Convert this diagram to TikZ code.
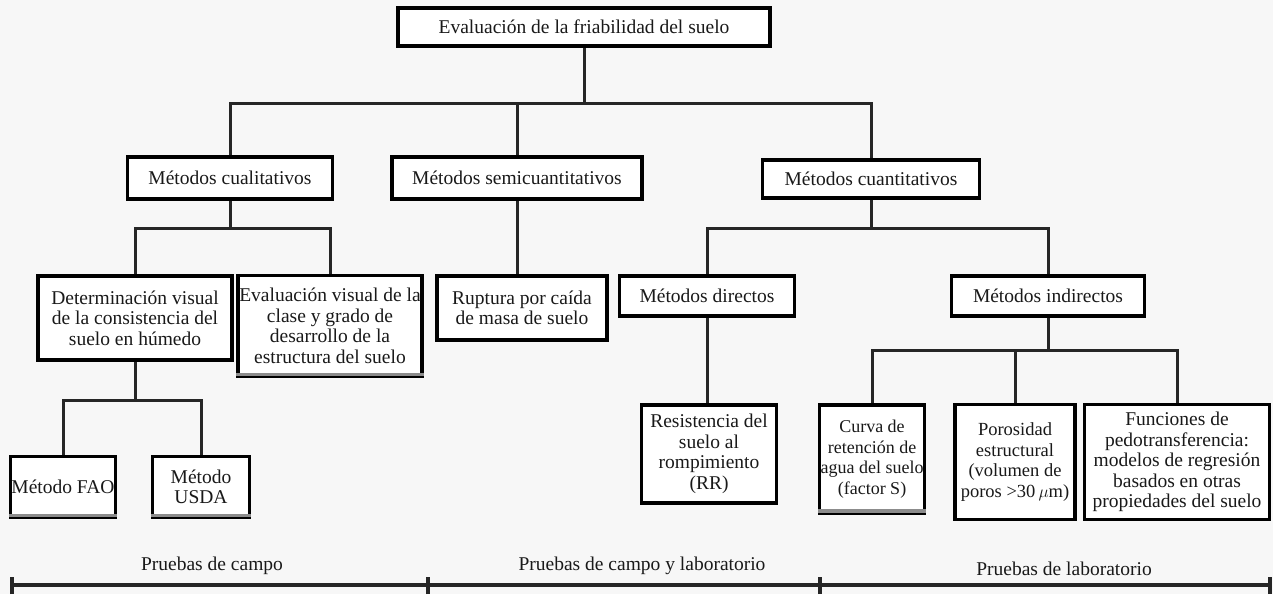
\documentclass[tikz,border=0pt]{standalone}
\usepackage{fontspec}
\setmainfont{Liberation Serif}
\begin{document}
\begin{tikzpicture}[x=1pt,y=-1pt,
  box/.style={draw=black,line width=3.2pt,fill=white,align=center,inner sep=1pt,
    font=\fontsize{19.5}{20.5}\selectfont,text=black!90},
  conn/.style={line width=3pt,draw=black!85},
  shd/.style={line width=3.5pt,draw=black!45},
  lbl/.style={font=\fontsize{19.5}{20.5}\selectfont,text=black!90}]
\fill[black!3] (0,0) rectangle (1273,594);
\useasboundingbox (0,0) rectangle (1273,594);
\node[box,minimum width=372pt,minimum height=38pt] (top) at (584,27) {Evaluación de la friabilidad del suelo};
\node[box,minimum width=205pt,minimum height=42pt] (cual) at (230,178) {Métodos cualitativos};
\node[box,minimum width=250pt,minimum height=42pt] (semi) at (517,178) {Métodos semicuantitativos};
\node[box,minimum width=217pt,minimum height=38pt] (cuant) at (871,179) {Métodos cuantitativos};
\node[box,minimum width=194pt,minimum height=84pt] (det) at (135,318) {Determinación visual\\de la consistencia del\\suelo en húmedo};
\node[box,minimum width=184pt,minimum height=101pt] (eval) at (330,326) {Evaluación visual de la\\clase y grado de\\desarrollo de la\\estructura del suelo};
\node[box,minimum width=103pt,minimum height=61pt] (fao) at (63,487) {Método FAO};
\node[box,minimum width=97pt,minimum height=61pt] (usda) at (201,487) {Método\\USDA};
\node[box,minimum width=170pt,minimum height=64pt] (rup) at (522,308) {Ruptura por caída\\de masa de suelo};
\node[box,minimum width=175pt,minimum height=40pt] (dir) at (707,296) {Métodos directos};
\node[box,minimum width=193pt,minimum height=40pt] (ind) at (1048,296) {Métodos indirectos};
\node[box,minimum width=135pt,minimum height=98pt] (res) at (709,454) {Resistencia del\\suelo al\\rompimiento\\(RR)};
\node[box,minimum width=96pt,minimum height=108pt,font=\fontsize{18}{20.5}\selectfont] (curva) at (872,459) {Curva de\\retención de\\agua del suelo\\(factor S)};
\node[box,minimum width=120pt,minimum height=115pt,font=\fontsize{18.5}{20.5}\selectfont] (poro) at (1015,462) {Porosidad\\estructural\\(volumen de\\poros >30\,$\mu$m)};
\node[box,minimum width=185pt,minimum height=115pt] (fun) at (1177,462) {Funciones de\\pedotransferencia:\\modelos de regresión\\basados en otras\\propiedades del suelo};
% scan shadows
\draw[shd] ([yshift=3.5pt]eval.south west) -- ([yshift=3.5pt]eval.south east);
\draw[shd] ([yshift=3.5pt]fao.south west) -- ([yshift=3.5pt]fao.south east);
\draw[shd] ([yshift=3.5pt]usda.south west) -- ([yshift=3.5pt]usda.south east);
\draw[shd] ([yshift=3.5pt]curva.south west) -- ([yshift=3.5pt]curva.south east);
% bus coordinates
\coordinate (b1) at (0,103);
\coordinate (b2) at (0,228);
\coordinate (b3) at (0,400);
\coordinate (b4) at (0,350);
\draw[conn] (top.south) -- (top.south |- b1);
\draw[conn] (cual.north) |- (cuant.north |- b1) -- (cuant.north);
\draw[conn] (semi.north) -- (semi.north |- b1);
\draw[conn] (det.north) |- (eval.north |- b2) -- (eval.north);
\draw[conn] (cual.south) -- (cual.south |- b2);
\draw[conn] (fao.north) |- (usda.north |- b3) -- (usda.north);
\draw[conn] (det.south) -- (det.south |- b3);
\draw[conn] (semi.south) -- (rup.north -| semi.south);
\draw[conn] (dir.north) |- (ind.north |- b2) -- (ind.north);
\draw[conn] (cuant.south) -- (cuant.south |- b2);
\draw[conn] (dir.south) -- (res.north -| dir.south);
\draw[conn] (curva.north) |- (fun.north |- b4) -- (fun.north);
\draw[conn] (ind.south) -- (ind.south |- b4);
\draw[conn] (poro.north) -- (poro.north |- b4);
% bottom scale
\coordinate (s0) at (12,585);
\coordinate (s1) at (428,585);
\coordinate (s2) at (820,585);
\coordinate (s3) at (1270,585);
\draw[conn,line width=3.6pt] (s0) -- (s1) -- (s2) -- (s3);
\foreach \s in {s0,s1,s2,s3} \draw[conn,line width=3.6pt] ([yshift=-9pt]\s) -- ([yshift=8pt]\s);
\node[lbl] (l1) at (212,566) {Pruebas de campo};
\node[lbl] (l2) at (642,566) {Pruebas de campo y laboratorio};
\node[lbl] (l3) at (1064,569) {Pruebas de laboratorio};
\end{tikzpicture}
\end{document}
